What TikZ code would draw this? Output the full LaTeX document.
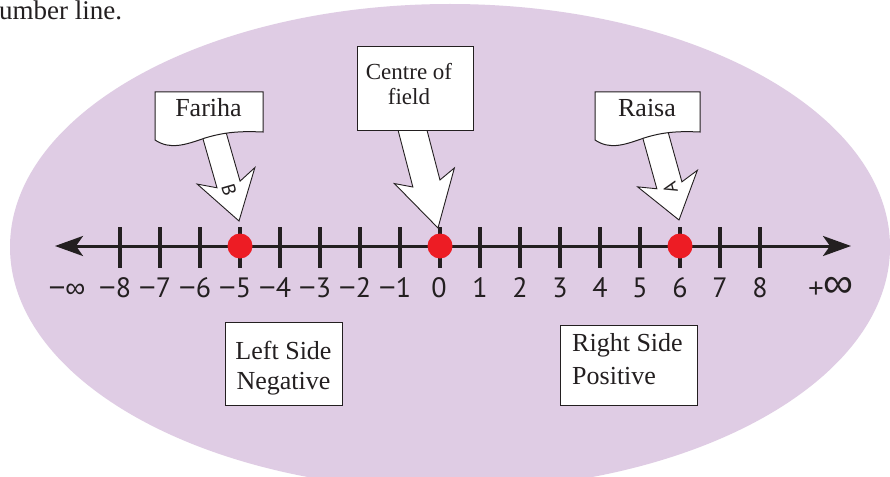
\documentclass[tikz,border=0pt]{standalone}
\usepackage{fontspec}
\setmainfont{Liberation Serif}
\newfontfamily\numfont{PT Sans}
\newfontfamily\symfont{Liberation Sans}
\usetikzlibrary{arrows.meta}
\definecolor{lav}{RGB}{223,204,228}
\definecolor{dotred}{RGB}{237,28,36}
\definecolor{ink}{RGB}{35,31,32}
\newcommand\mysign[1]{{\symfont\fontsize{29}{29}\selectfont #1}}
\begin{document}
\begin{tikzpicture}[x=1pt,y=-1pt,
  numlbl/.style={font=\numfont\fontsize{28}{28}\selectfont, anchor=base, inner sep=0pt, text=ink},
  boxtext/.style={inner sep=0pt, text=ink},
  textbox/.style={draw=ink, fill=white, line width=1pt},
  bigarrow/.style={draw=ink, fill=white, line width=0.9pt, line join=miter},
  tickmark/.style={draw=ink, line width=3.3pt},
  axisline/.style={draw=ink, line width=3pt},
  reddot/.style={circle, fill=dotred, minimum size=25pt, inner sep=0pt},
  arrowletter/.style={font=\numfont\fontsize{19}{19}\selectfont, inner sep=0pt, text=ink}]
\useasboundingbox (0,0) rectangle (890,476);
\fill[white] (0,0) rectangle (890,476);
\fill[lav] (450,247) ellipse [x radius=440, y radius=243];

% top text
\node[anchor=base west, inner sep=0pt, font=\fontsize{27}{27}\selectfont, text=ink] (toptext) at (-1,19.5) {umber line.};

% number line
\coordinate (Lend) at (55,246);
\coordinate (Rend) at (851,246);
\draw[axisline, {Stealth[length=28pt,width=20pt,inset=7pt]}-{Stealth[length=28pt,width=20pt,inset=7pt]}] (Lend) -- (Rend);
\foreach \n in {-8,...,8} {
  \draw[tickmark] ({440+40*\n},227) -- ({440+40*\n},268);
}
\foreach \n in {1,...,8} {
  \node[numlbl] (p\n) at ({440+40*\n},297) {\n};
  \node[numlbl] (m\n) at ({440-40*\n-5},297) {\mysign{−}\n};
}
\node[numlbl] (zero) at (439,297) {0};
\node[numlbl] (minf) at (67,297) {\mysign{−}{\symfont\fontsize{28}{28}\selectfont ∞}};
\node[numlbl] (pinf) at (831,297) {{\symfont\fontsize{27}{27}\selectfont +}{\symfont\fontsize{42}{42}\selectfont ∞}};

% red dots
\node[reddot] (dB) at (240,246) {};
\node[reddot] (dO) at (440,246) {};
\node[reddot] (dA) at (680,246) {};

% Fariha arrow
\begin{scope}[shift={(239,221)}, rotate=16]
  \draw[bigarrow] (0,0) -- (30,-47) -- (12,-38) -- (12,-100) -- (-12,-100) -- (-12,-38) -- (-30,-47) -- cycle;
  \node[arrowletter, rotate=-74] (letterB) at (-1,-33) {B};
\end{scope}
% Centre arrow
\begin{scope}[shift={(438,228)}, rotate=14.6]
  \draw[bigarrow] (0,0) -- (31,-54) -- (14,-46) -- (14,-115) -- (-14,-115) -- (-14,-46) -- (-31,-54) -- cycle;
\end{scope}
% Raisa arrow
\begin{scope}[shift={(679,220)}, rotate=15.5]
  \draw[bigarrow] (0,0) -- (31,-43) -- (13,-36) -- (13,-100) -- (-13,-100) -- (-13,-36) -- (-31,-43) -- cycle;
  \node[arrowletter, rotate=105] (letterA) at (0,-33) {A};
\end{scope}

% Fariha box
\draw[textbox] (155,140) -- (155,92) -- (263,92) -- (263,132)
   .. controls (240,131) and (225,132) .. (205,138)
   .. controls (185,145) and (170,150) .. (155,140) -- cycle;
\node[boxtext, font=\fontsize{26}{30}\selectfont] (fariha) at (208.5,108) {Fariha};

% Raisa box
\draw[textbox] (595,140) -- (595,92) -- (700,92) -- (700,132)
   .. controls (678,131) and (663,132) .. (644,138)
   .. controls (624,145) and (610,150) .. (595,140) -- cycle;
\node[boxtext, font=\fontsize{26}{30}\selectfont] (raisa) at (647,108) {Raisa};

% Centre box
\node[textbox, minimum width=116pt, minimum height=83pt, inner sep=0pt] (cbox) at (415,88.5) {};
\node[boxtext, align=center, font=\fontsize{23}{25}\selectfont] (ctext) at (409,84.5) {Centre of\\field};

% Left side box
\node[textbox, minimum width=117pt, minimum height=83pt, inner sep=0pt] (lbox) at (283.5,363.5) {};
\node[boxtext, align=center, font=\fontsize{26}{30}\selectfont] (ltext) at (283.5,368.5) {Left Side\\Negative};

% Right side box
\node[textbox, minimum width=137pt, minimum height=80pt, inner sep=0pt] (rbox) at (628.5,365) {};
\node[boxtext, align=left, anchor=west, font=\fontsize{26}{33}\selectfont] (rtext) at (572,359.5) {Right Side\\Positive};
\end{tikzpicture}
\end{document}
